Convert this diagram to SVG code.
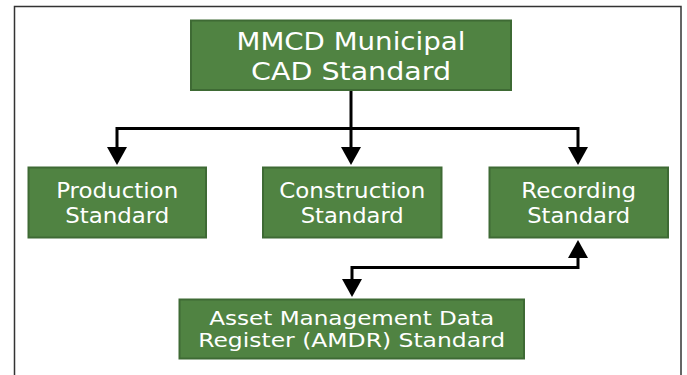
<svg xmlns="http://www.w3.org/2000/svg" width="687" height="375" viewBox="0 0 687 375">
  <style>
    .box { fill: #508342; stroke: #3e6a34; stroke-width: 2; }
    .lbl { fill: #ffffff; font-family: "DejaVu Sans", Verdana, sans-serif; text-anchor: middle; }
    .t24 { font-size: 24px; }
    .t21 { font-size: 21px; }
    .t20 { font-size: 20px; }
    .conn { fill: none; stroke: #000000; stroke-width: 3; stroke-linejoin: miter; }
    .frame { fill: none; stroke: #333333; stroke-width: 1.5; }
  </style>
  <defs>
    <marker id="arrow" viewBox="0 0 18 20" refX="0" refY="10" markerWidth="18" markerHeight="20" markerUnits="userSpaceOnUse" orient="auto-start-reverse">
      <path d="M0,0 L18,10 L0,20 z" fill="#000000"/>
    </marker>
  </defs>
  <rect width="687" height="375" fill="#ffffff"/>
  <path class="frame" d="M14.5,375 V6.5 H681 V375"/>

  <g id="connectors">
    <path class="conn" d="M351,90 V147" marker-end="url(#arrow)"/>
    <path class="conn" d="M351,128.5 H117 V147" marker-end="url(#arrow)"/>
    <path class="conn" d="M351,128.5 H578 V147" marker-end="url(#arrow)"/>
    <path class="conn" d="M578,258 V267.5 H352 V279" marker-start="url(#arrow)" marker-end="url(#arrow)"/>
  </g>

  <g id="mmcd">
    <rect class="box" x="191" y="20.5" width="320" height="69.5"/>
    <text class="lbl t24" x="351" y="49.5" textLength="229" lengthAdjust="spacingAndGlyphs">MMCD Municipal</text>
    <text class="lbl t24" x="351" y="80" textLength="200" lengthAdjust="spacingAndGlyphs">CAD Standard</text>
  </g>

  <g id="production">
    <rect class="box" x="28.5" y="167.5" width="177.5" height="70"/>
    <text class="lbl t21" x="117.2" y="198" textLength="122" lengthAdjust="spacingAndGlyphs">Production</text>
    <text class="lbl t21" x="117.2" y="222.5" textLength="104" lengthAdjust="spacingAndGlyphs">Standard</text>
  </g>

  <g id="construction">
    <rect class="box" x="263" y="167.5" width="178.5" height="70"/>
    <text class="lbl t21" x="352.2" y="198" textLength="146" lengthAdjust="spacingAndGlyphs">Construction</text>
    <text class="lbl t21" x="352.2" y="222.5" textLength="103" lengthAdjust="spacingAndGlyphs">Standard</text>
  </g>

  <g id="recording">
    <rect class="box" x="489.5" y="167.5" width="178.5" height="70"/>
    <text class="lbl t21" x="578.7" y="198" textLength="115" lengthAdjust="spacingAndGlyphs">Recording</text>
    <text class="lbl t21" x="578.7" y="222.5" textLength="103" lengthAdjust="spacingAndGlyphs">Standard</text>
  </g>

  <g id="amdr">
    <rect class="box" x="179.5" y="299.5" width="344.5" height="59"/>
    <text class="lbl t20" x="351.7" y="324.5" textLength="285" lengthAdjust="spacingAndGlyphs">Asset Management Data</text>
    <text class="lbl t20" x="351.7" y="347" textLength="307" lengthAdjust="spacingAndGlyphs">Register (AMDR) Standard</text>
  </g>
</svg>
